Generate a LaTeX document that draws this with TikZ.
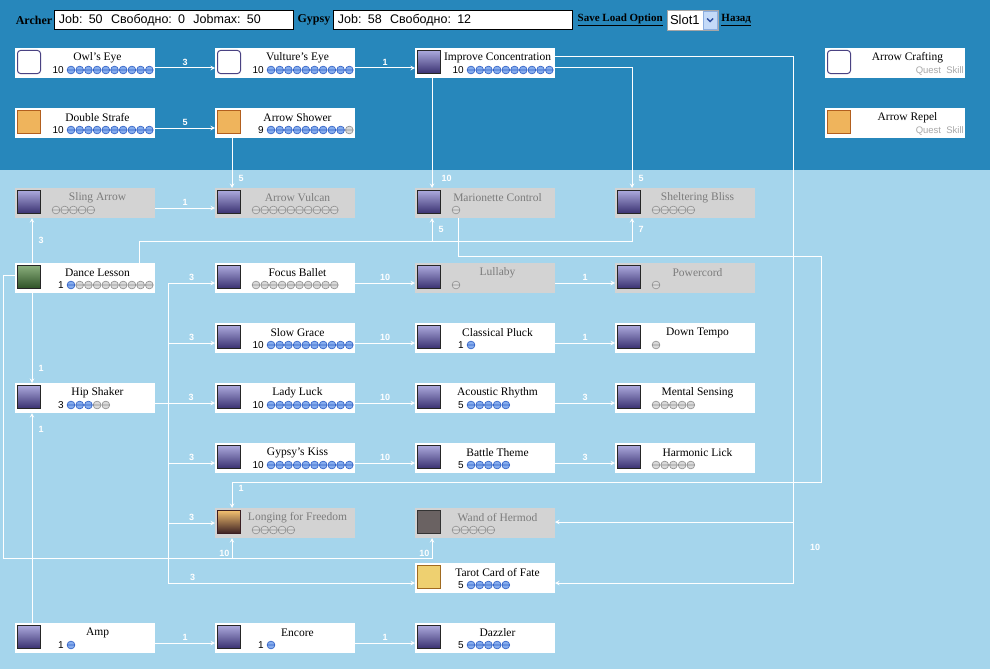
\documentclass[tikz,border=0pt]{standalone}
\usepackage{fontspec}
\setmainfont{Liberation Serif}
\setsansfont{Liberation Sans}
\usetikzlibrary{positioning}
\definecolor{topblue}{HTML}{2787BB}
\definecolor{lowblue}{HTML}{A5D5EC}
\definecolor{lockgrey}{HTML}{D3D3D3}
\definecolor{dimtext}{HTML}{7C7C7C}
\definecolor{questgrey}{HTML}{A8A8A8}
\definecolor{pipon}{HTML}{86ADEE}
\definecolor{piponline}{HTML}{2F5FC4}
\definecolor{pipoff}{HTML}{DADADA}
\definecolor{pipoffline}{HTML}{8E8E8E}
\definecolor{icontop}{HTML}{ABA9DC}
\definecolor{iconbot}{HTML}{383070}
\definecolor{bubline}{HTML}{4A4282}
\definecolor{burstfill}{HTML}{EFB45C}
\definecolor{burstline}{HTML}{B25E1E}
\definecolor{leaftop}{HTML}{8AAE7C}
\definecolor{leafbot}{HTML}{2E5226}
\definecolor{flametop}{HTML}{F2C070}
\definecolor{flamebot}{HTML}{3A1E22}
\definecolor{noisefill}{HTML}{6A6262}
\definecolor{cardfill}{HTML}{EED070}
\definecolor{cardline}{HTML}{A06A20}
\definecolor{btnfill}{HTML}{C4DAF8}
\definecolor{btnline}{HTML}{8CAEE0}
\definecolor{chevron}{HTML}{3050A0}
\newcommand\skill[8]{%
  \node[#4] (#1) at (#2,#3) {};
  \node[icon,#8] at ([xshift=2pt,yshift=-2pt]#1.north west) {};
  \node[skname,#4text] at ([xshift=82.5pt,yshift=-10pt]#1.north west) {#5};
  \ifnum#6>0
    \node[lvl] at ([xshift=49pt,yshift=-22pt]#1.north west) {#6};
    \def\pipstart{56}%
  \else
    \def\pipstart{41}%
  \fi
  \foreach \i in {1,...,#7}{%
    \pgfmathsetmacro\px{\pipstart+(\i-1)*8.7}%
    \ifnum\i>#6 \def\pipstyle{offdot}\else\def\pipstyle{ondot}\fi
    \coordinate (pp) at ([xshift=\px pt,yshift=-22pt]#1.north west);
    \draw[\pipstyle] (pp) circle[radius=3.9pt] ([xshift=-3.9pt]pp) -- ([xshift=3.9pt]pp);
  }%
}
\newcommand\quest[5]{%
  \node[learnt] (#1) at (#2,#3) {};
  \node[icon,#5] at ([xshift=2pt,yshift=-2pt]#1.north west) {};
  \node[skname] at ([xshift=82.5pt,yshift=-10pt]#1.north west) {#4};
  \node[qtag] at ([xshift=-1pt,yshift=-23pt]#1.north east) {Quest\ \ Skill};
}
\begin{document}
\begin{tikzpicture}[x=1pt,y=-1pt,>=stealth,
  learnt/.style={anchor=north west,fill=white,minimum width=140pt,minimum height=30pt,inner sep=0pt,outer sep=0pt},
  locked/.style={learnt,fill=lockgrey},
  learnttext/.style={text=black},
  lockedtext/.style={text=dimtext},
  skname/.style={inner sep=0pt,font=\fontsize{11.5}{12}\selectfont},
  lvl/.style={anchor=east,inner sep=0pt,font=\sffamily\fontsize{10}{10}\selectfont},
  qtag/.style={anchor=east,inner sep=0pt,text=questgrey,font=\sffamily\fontsize{9.5}{10}\selectfont},
  ondot/.style={draw=piponline,fill=pipon,line width=.6pt},
  offdot/.style={draw=pipoffline,fill=pipoff,line width=.6pt},
  icon/.style={anchor=north west,minimum size=23pt,inner sep=0pt,line width=1pt},
  purp/.style={draw=black!85,top color=icontop,bottom color=iconbot},
  bubble/.style={draw=bubline,fill=white,rounded corners=3pt},
  burst/.style={draw=burstline,fill=burstfill},
  leaf/.style={draw=black!85,top color=leaftop,bottom color=leafbot},
  flame/.style={draw=flamebot,top color=flametop,bottom color=flamebot},
  noise/.style={draw=black!80,fill=noisefill},
  card/.style={draw=cardline,fill=cardfill},
  req/.style={->,draw=white,line width=1pt},
  num/.style={text=white,inner sep=0pt,font=\sffamily\bfseries\fontsize{9}{9}\selectfont},
  hdr/.style={inner sep=0pt,font=\bfseries\fontsize{12}{12}\selectfont},
  field/.style={draw=black,fill=white,line width=1pt,minimum height=19pt,text width=231pt,inner xsep=4pt,inner ysep=0pt,align=left,font=\sffamily\fontsize{12.5}{13}\selectfont},
  slotbox/.style={draw=gray!70,fill=white,minimum height=20pt,text width=45pt,inner xsep=3pt,inner ysep=0pt,align=left,font=\sffamily\fontsize{13}{13}\selectfont},
  dropbtn/.style={anchor=east,draw=btnline,fill=btnfill,minimum width=14pt,minimum height=18pt,inner sep=0pt}]
\useasboundingbox (0,0) rectangle (990,669);
\fill[lowblue] (0,0) rectangle (990,669);
\fill[topblue] (0,0) rectangle (990,170);
% header
\node[hdr] (archer) at (34,20) {Archer};
\node[field,right=2pt of archer] (jobA) {Job: 50\ \ Свободно: 0\ \ Jobmax: 50};
\node[hdr,right=3pt of jobA] (gypsy) {Gypsy};
\node[field,right=3pt of gypsy] (jobB) {Job: 58\ \ Свободно: 12};
\node[hdr,font=\bfseries\fontsize{11}{11}\selectfont,right=4pt of jobB] (save) {\underline{Save Load Option}};
\node[slotbox,right=4pt of save] (slot) {Slot1};
\node[dropbtn] (drop) at ([xshift=-1pt]slot.east) {};
\draw[chevron,line width=1.4pt] ([xshift=-3pt,yshift=1.5pt]drop.center) -- ([yshift=-1.5pt]drop.center) -- ([xshift=3pt,yshift=1.5pt]drop.center);
\node[hdr,font=\bfseries\fontsize{11}{11}\selectfont,right=3pt of slot] (back) {\underline{Назад}};
% skills
\skill{owl}{15}{48}{learnt}{Owl's Eye}{10}{10}{bubble}
\skill{vult}{215}{48}{learnt}{Vulture's Eye}{10}{10}{bubble}
\skill{impc}{415}{48}{learnt}{Improve Concentration}{10}{10}{purp}
\quest{acraft}{825}{48}{Arrow Crafting}{bubble}
\skill{dstr}{15}{108}{learnt}{Double Strafe}{10}{10}{burst}
\skill{ashow}{215}{108}{learnt}{Arrow Shower}{9}{10}{burst}
\quest{arep}{825}{108}{Arrow Repel}{burst}
\skill{sling}{15}{188}{locked}{Sling Arrow}{0}{5}{purp}
\skill{avul}{215}{188}{locked}{Arrow Vulcan}{0}{10}{purp}
\skill{mario}{415}{188}{locked}{Marionette Control}{0}{1}{purp}
\skill{shelt}{615}{188}{locked}{Sheltering Bliss}{0}{5}{purp}
\skill{dance}{15}{263}{learnt}{Dance Lesson}{1}{10}{leaf}
\skill{focus}{215}{263}{learnt}{Focus Ballet}{0}{10}{purp}
\skill{lull}{415}{263}{locked}{Lullaby}{0}{1}{purp}
\skill{power}{615}{263}{locked}{Powercord}{0}{1}{purp}
\skill{slow}{215}{323}{learnt}{Slow Grace}{10}{10}{purp}
\skill{pluck}{415}{323}{learnt}{Classical Pluck}{1}{1}{purp}
\skill{tempo}{615}{323}{learnt}{Down Tempo}{0}{1}{purp}
\skill{hip}{15}{383}{learnt}{Hip Shaker}{3}{5}{purp}
\skill{luck}{215}{383}{learnt}{Lady Luck}{10}{10}{purp}
\skill{acou}{415}{383}{learnt}{Acoustic Rhythm}{5}{5}{purp}
\skill{mental}{615}{383}{learnt}{Mental Sensing}{0}{5}{purp}
\skill{kiss}{215}{443}{learnt}{Gypsy's Kiss}{10}{10}{purp}
\skill{battle}{415}{443}{learnt}{Battle Theme}{5}{5}{purp}
\skill{lick}{615}{443}{learnt}{Harmonic Lick}{0}{5}{purp}
\skill{longing}{215}{508}{locked}{Longing for Freedom}{0}{5}{flame}
\skill{wand}{415}{508}{locked}{Wand of Hermod}{0}{5}{noise}
\skill{tarot}{415}{563}{learnt}{Tarot Card of Fate}{5}{5}{card}
\skill{amp}{15}{623}{learnt}{Amp}{1}{1}{purp}
\skill{encore}{215}{623}{learnt}{Encore}{1}{1}{purp}
\skill{dazz}{415}{623}{learnt}{Dazzler}{5}{5}{purp}
% requirements
\foreach \a/\b/\n in {owl/vult/3,vult/impc/1,dstr/ashow/5,sling/avul/1,lull/power/1,pluck/tempo/1,acou/mental/3,battle/lick/3,amp/encore/1,encore/dazz/1}
  \draw[req] ([yshift=-5pt]\a.east) -- node[num,above=2pt]{\n} ([yshift=-5pt]\b.west);
\foreach \a/\b in {focus/lull,slow/pluck,luck/acou,kiss/battle}
  \draw[req] ([yshift=-5pt]\a.east) -- node[num,above=2pt]{10} ([yshift=-5pt]\b.west);
\draw[req] ([xshift=17pt]ashow.south west) -- node[num,pos=.8,right=6pt]{5} ([xshift=17pt]avul.north west);
\draw[req] ([xshift=17pt]impc.south west) -- node[num,pos=.91,right=9pt]{10} ([xshift=17pt]mario.north west);
\draw[req] ([yshift=-5pt]impc.east) -| node[num,pos=.96,right=6pt]{5} ([xshift=17pt]shelt.north west);
\coordinate (rail) at (793,57);
\draw[req] ([yshift=6pt]impc.east) -| ([yshift=1pt]rail |- wand.east) -- ([yshift=1pt]wand.east);
\draw[req] ([yshift=6pt]impc.east) -| ([yshift=-5pt]rail |- tarot.east) -- ([yshift=-5pt]tarot.east);
\node[num] at (815,547) {10};
\draw[req] ([xshift=17pt]dance.north west) -- node[num,right=6pt]{3} ([xshift=17pt]sling.south west);
\draw[req] ([xshift=17pt]dance.south west) -- node[num,pos=.84,right=6pt]{1} ([xshift=17pt]hip.north west);
\draw[req] ([xshift=17pt]amp.north west) -- node[num,pos=.92,right=6pt]{1} ([xshift=17pt]hip.south west);
\coordinate (dtop) at ([xshift=124pt]dance.north west);
\coordinate (mbot) at ([xshift=17pt]mario.south west);
\coordinate (sbot) at ([xshift=17pt]shelt.south west);
\draw[req] (dtop) |- ([yshift=-23pt]mbot) -- node[num,right=6pt]{5} (mbot);
\draw[req] (dtop) |- ([yshift=-23pt]sbot) -- node[num,right=6pt]{7} (sbot);
\coordinate (mout) at ([xshift=43pt]mario.south west);
\coordinate (ltop) at ([xshift=17pt]longing.north west);
\draw[req] (mout) |- (821,256) |- ([yshift=26pt]ltop) -- node[num,pos=.25,right=6pt]{1} (ltop);
\coordinate (dwest) at ([yshift=3pt]dance.west);
\coordinate (lbot) at ([xshift=17pt]longing.south west);
\coordinate (wbot) at ([xshift=17pt]wand.south west);
\draw[req] (dwest) -| (3,558) -| node[num,pos=.62,left=2pt]{10} (lbot);
\draw[req] (dwest) -| (3,558) -| node[num,pos=.62,left=2pt]{10} (wbot);
\coordinate (fork) at ([xshift=13pt,yshift=-5pt]hip.east);
\draw[req] ([yshift=-5pt]hip.east) -- node[num,pos=.6,above=2pt]{3} ([yshift=-5pt]luck.west);
\foreach \t/\o/\p in {focus/-5/.75,slow/-5/.75,kiss/-5/.75,longing/0/.75,tarot/-5/.55}
  \draw[req] (fork) |- node[num,pos=\p,above=2pt]{3} ([yshift=\o pt]\t.west);
\end{tikzpicture}
\end{document}
